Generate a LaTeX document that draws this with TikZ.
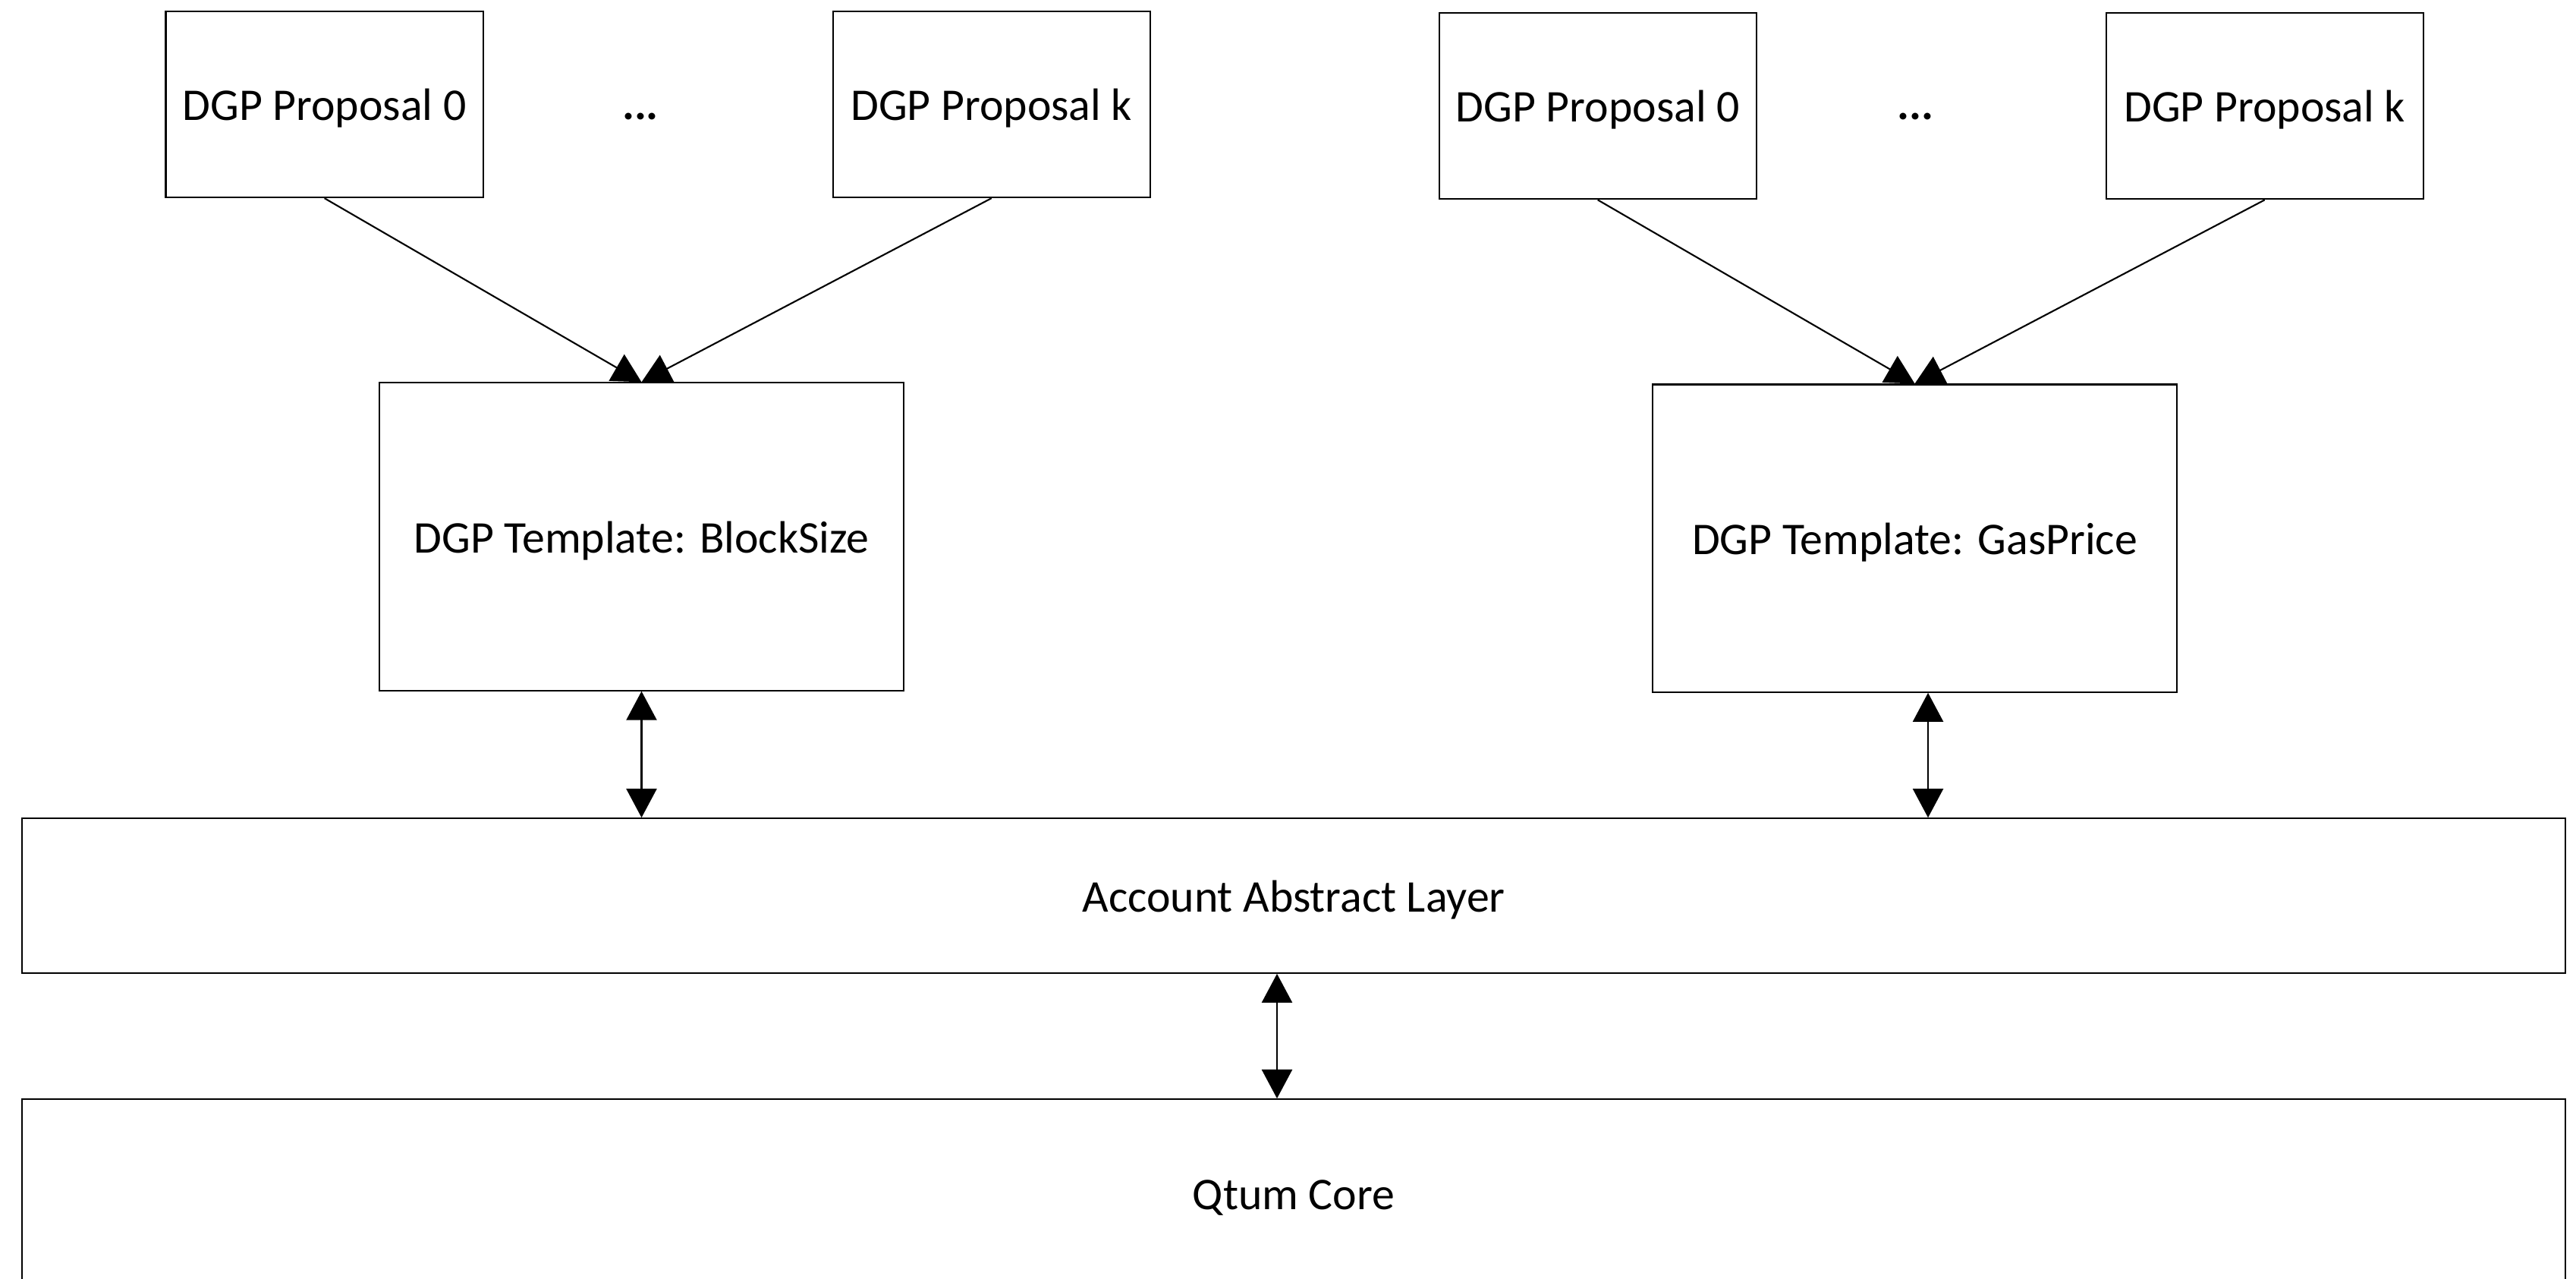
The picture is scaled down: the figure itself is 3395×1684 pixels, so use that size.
\documentclass[tikz,border=0pt]{standalone}
\usepackage{fontspec}
\setmainfont{Carlito}
\usetikzlibrary{arrows.meta}
\begin{document}
\begin{tikzpicture}[x=0.01cm,y=-0.01cm,
  box/.style={draw=black, line width=0.6pt, inner sep=0pt, font=\fontsize{17}{20}\selectfont, align=center, text height=14pt, text depth=2pt},
  prop/.style={box, minimum width=4.18cm, minimum height=2.45cm},
  tmpl/.style={box, minimum width=6.91cm, minimum height=4.05cm},
  layer/.style={box, minimum width=33.5cm, minimum height=2.035cm},
  conn/.style={line width=0.6pt, -{Triangle[length=0.38cm,width=0.4cm]}},
  dconn/.style={line width=0.6pt, {Triangle[length=0.38cm,width=0.4cm]}-{Triangle[length=0.38cm,width=0.4cm]}},
  txt/.style={font=\fontsize{17}{20}\selectfont\bfseries, inner sep=0pt}
]
\useasboundingbox (0,0) rectangle (3395,1684);
\clip (0,0) rectangle (3395,1684);
\fill[white] (0,0) rectangle (3395,1684);
\node[prop] (p0a) at (427.6,137.5) {DGP Proposal 0};
\node[prop] (pka) at (1306.7,137.5) {DGP Proposal k};
\node[prop] (p0b) at (2105.7,139.7) {DGP Proposal 0};
\node[prop] (pkb) at (2984.7,139.7) {DGP Proposal k};
\node[txt, anchor=base] (da) at (844,157) {...};
\node[txt, anchor=base] (db) at (2524,157) {...};
\node[tmpl] (tb) at (845.5,707) {DGP Template: BlockSize};
\node[tmpl] (tg) at (2523.5,709.1) {DGP Template: GasPrice};
\node[layer] (aal) at (1705,1180) {Account Abstract Layer};
\node[layer, minimum height=2.475cm] (core) at (1705,1572) {Qtum Core};
\draw[conn] (p0a.south) -- (tb.north);
\draw[conn] (pka.south) -- (tb.north);
\draw[conn] (p0b.south) -- (tg.north);
\draw[conn] (pkb.south) -- (tg.north);
\draw[dconn] (tb.south) -- (tb.south |- aal.north);
\draw[dconn] ([xshift=0.175cm]tg.south) -- ([xshift=0.175cm]tg.south |- aal.north);
\draw[dconn] ([xshift=-0.22cm]aal.south) -- ([xshift=-0.22cm]aal.south |- core.north);
\end{tikzpicture}
\end{document}
